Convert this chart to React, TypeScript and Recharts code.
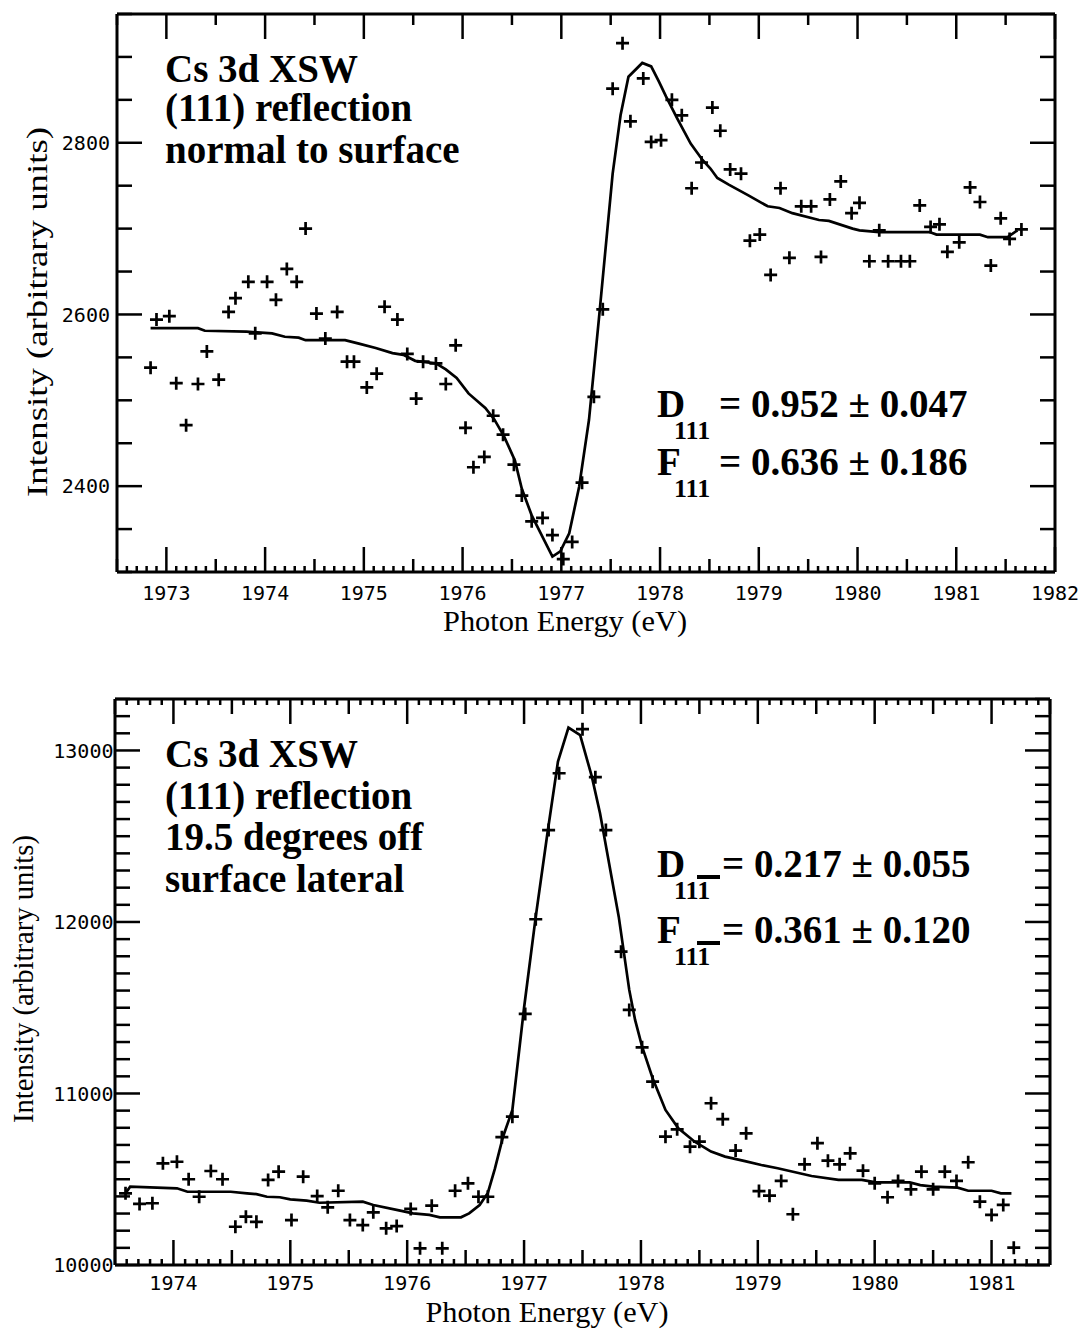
import React from 'react';
import { ComposedChart, Scatter, Line, XAxis, YAxis } from 'recharts';

// upper panel: (111) reflection normal to surface
const topEnergy = [
  1972.84, 1972.9, 1973.03, 1973.1, 1973.2, 1973.32, 1973.41, 1973.53, 1973.63, 1973.7,
  1973.83, 1973.9, 1974.02, 1974.11, 1974.22, 1974.32, 1974.41, 1974.52, 1974.61, 1974.73,
  1974.83, 1974.9, 1975.03, 1975.13, 1975.21, 1975.34, 1975.44, 1975.53, 1975.6, 1975.73,
  1975.83, 1975.93, 1976.03, 1976.11, 1976.22, 1976.31, 1976.41, 1976.52, 1976.6, 1976.7,
  1976.81, 1976.91, 1977.02, 1977.11, 1977.21, 1977.33, 1977.42, 1977.52, 1977.62, 1977.7,
  1977.83, 1977.91, 1978.01, 1978.12, 1978.22, 1978.32, 1978.42, 1978.53, 1978.61, 1978.71,
  1978.82, 1978.91, 1979.01, 1979.12, 1979.22, 1979.31, 1979.43, 1979.53, 1979.63, 1979.72,
  1979.83, 1979.94, 1980.02, 1980.12, 1980.22, 1980.31, 1980.44, 1980.53, 1980.63, 1980.74,
  1980.83, 1980.91, 1981.03, 1981.14, 1981.24, 1981.35, 1981.45, 1981.54, 1981.66,
];
const topIntensity = [
  2538, 2594, 2598, 2520, 2471, 2519, 2557, 2524, 2603, 2619,
  2638, 2578, 2638, 2617, 2653, 2638, 2700, 2601, 2572, 2603,
  2545, 2545, 2515, 2531, 2609, 2594, 2554, 2502, 2545, 2543,
  2519, 2564, 2468, 2422, 2434, 2482, 2460, 2425, 2389, 2359,
  2363, 2343, 2315, 2335, 2404, 2504, 2606, 2863, 2916, 2825,
  2875, 2801, 2803, 2850, 2832, 2747, 2777, 2841, 2814, 2769,
  2764, 2686, 2693, 2646, 2747, 2666, 2726, 2726, 2667, 2734,
  2755, 2718, 2730, 2662, 2698, 2662, 2662, 2662, 2727, 2702,
  2705, 2673, 2684, 2748, 2731, 2657, 2712, 2688, 2699,
];
const topFitEnergy = [
  1972.84, 1973.32, 1973.39, 1973.81, 1974.07, 1974.2, 1974.34, 1974.41, 1974.81, 1974.95,
  1975.12, 1975.29, 1975.4, 1975.52, 1975.73, 1975.83, 1975.94, 1976.06, 1976.23, 1976.32,
  1976.42, 1976.53, 1976.6, 1976.7, 1976.91, 1976.99, 1977.08, 1977.18, 1977.28, 1977.38,
  1977.52, 1977.6, 1977.68, 1977.82, 1977.91, 1977.99, 1978.06, 1978.18, 1978.31, 1978.43,
  1978.51, 1978.58, 1978.7, 1978.89, 1979.09, 1979.21, 1979.34, 1979.61, 1979.71, 1979.95,
  1980.02, 1980.22, 1980.73, 1980.8, 1981.24, 1981.32, 1981.52, 1981.62,
];
const topFitIntensity = [
  2584, 2584, 2581, 2580, 2578, 2574, 2573, 2570, 2570, 2566,
  2561, 2555, 2553, 2546, 2543, 2536, 2526, 2508, 2491, 2478,
  2458, 2430, 2397, 2366, 2318, 2324, 2345, 2399, 2477, 2594,
  2764, 2832, 2877, 2893, 2889, 2871, 2854, 2827, 2799, 2780,
  2770, 2759, 2751, 2739, 2726, 2724, 2718, 2710, 2709, 2700,
  2698, 2696, 2696, 2693, 2693, 2690, 2690, 2698,
];

// lower panel: (111) reflection 19.5 degrees off surface lateral
const botEnergy = [
  1973.59, 1973.71, 1973.82, 1973.91, 1974.03, 1974.13, 1974.22, 1974.32, 1974.42, 1974.53,
  1974.62, 1974.71, 1974.81, 1974.9, 1975.01, 1975.11, 1975.23, 1975.32, 1975.41, 1975.51,
  1975.62, 1975.71, 1975.82, 1975.91, 1976.03, 1976.11, 1976.21, 1976.3, 1976.41, 1976.52,
  1976.61, 1976.69, 1976.81, 1976.9, 1977.01, 1977.1, 1977.21, 1977.3, 1977.5, 1977.61,
  1977.7, 1977.83, 1977.9, 1978.01, 1978.1, 1978.21, 1978.31, 1978.42, 1978.5, 1978.6,
  1978.7, 1978.81, 1978.9, 1979.01, 1979.1, 1979.2, 1979.3, 1979.4, 1979.51, 1979.6,
  1979.7, 1979.79, 1979.9, 1980.0, 1980.11, 1980.2, 1980.31, 1980.4, 1980.5, 1980.6,
  1980.7, 1980.8, 1980.9, 1981.0, 1981.1, 1981.19,
];
const botIntensity = [
  10418, 10356, 10360, 10593, 10602, 10500, 10398, 10548, 10500, 10223,
  10282, 10252, 10496, 10544, 10262, 10515, 10402, 10336, 10433, 10262,
  10233, 10307, 10214, 10227, 10327, 10097, 10346, 10097, 10433, 10476,
  10398, 10398, 10745, 10865, 11464, 12016, 12536, 12867, 13124, 12844,
  12536, 11827, 11487, 11269, 11069, 10748, 10791, 10690, 10719, 10943,
  10850, 10667, 10768, 10431, 10404, 10490, 10296, 10587, 10710, 10608,
  10587, 10651, 10550, 10476, 10395, 10490, 10441, 10544, 10441, 10544,
  10490, 10599, 10369, 10292, 10350, 10101,
];
const botFitEnergy = [
  1973.59, 1973.63, 1974.03, 1974.12, 1974.49, 1974.63, 1974.71, 1974.8, 1974.91, 1975.0,
  1975.14, 1975.25, 1975.62, 1975.71, 1975.94, 1976.05, 1976.19, 1976.28, 1976.46, 1976.53,
  1976.62, 1976.69, 1976.75, 1976.82, 1976.9, 1977.0, 1977.1, 1977.2, 1977.29, 1977.38,
  1977.48, 1977.58, 1977.65, 1977.81, 1977.9, 1977.95, 1978.01, 1978.1, 1978.21, 1978.32,
  1978.46, 1978.6, 1978.72, 1978.89, 1979.03, 1979.17, 1979.46, 1979.69, 1979.89, 1980.01,
  1980.3, 1980.39, 1980.5, 1980.71, 1980.8, 1981.0, 1981.08, 1981.17,
];
const botFitIntensity = [
  10418, 10457, 10447, 10427, 10427, 10418, 10413, 10398, 10395, 10383,
  10375, 10363, 10369, 10350, 10317, 10301, 10292, 10278, 10278, 10301,
  10350, 10420, 10560, 10748, 10904, 11500, 12031, 12517, 12935, 13133,
  13090, 12847, 12634, 12031, 11604, 11429, 11273, 11089, 10904, 10797,
  10719, 10661, 10632, 10606, 10583, 10564, 10519, 10496, 10496, 10482,
  10482, 10466, 10457, 10451, 10433, 10433, 10418, 10418,
];

// labelled ticks
const topXLabels = [1973, 1974, 1975, 1976, 1977, 1978, 1979, 1980, 1981, 1982];
const topYLabels = [2400, 2600, 2800];
const botXLabels = [1974, 1975, 1976, 1977, 1978, 1979, 1980, 1981];
const botYLabels = [10000, 11000, 12000, 13000];

const zip = (xs: number[], ys: number[]) => xs.map((x, i) => ({ x, y: ys[i] }));

// evenly spaced tick positions (rounded so that 1977.0 == 1977)
const range = (a: number, b: number, step: number) => {
  const out: number[] = [];
  const n = Math.round((b - a) / step);
  for (let i = 0; i <= n; i++) out.push(Math.round((a + i * step) * 100) / 100);
  return out;
};

const isWhole = (v: number, k: number) => Math.abs(v * k - Math.round(v * k)) < 1e-6;

const tickFont = { fontFamily: '"DejaVu Sans Mono", monospace', fontSize: 20, fill: '#000' };
const serif = '"Liberation Serif", "Times New Roman", serif';

const Cross = (props: any) => {
  const { cx, cy } = props;
  if (cx == null || cy == null) return null;
  return (
    <path
      d={`M${cx - 6.5},${cy}H${cx + 6.5}M${cx},${cy - 6.5}V${cy + 6.5}`}
      stroke="#000"
      strokeWidth={2.7}
      fill="none"
    />
  );
};

interface PanelProps {
  points: { x: number; y: number }[];
  fit: { x: number; y: number }[];
  height: number;
  margin: { top: number; right: number; left: number; bottom: number };
  leftWidth: number;
  bottomHeight: number;
  xDomain: [number, number];
  yDomain: [number, number];
  xTicksBottom: number[];
  xTicksTop: number[];
  yTicks: number[];
  xLabels: number[];
  yLabels: number[];
  halfLen: number;
  topHalfLen: number;
  yLabelGap: number;
  xLabelDy: number;
}

const Panel = (p: PanelProps) => {
  const xLen = (v: number, half: number) =>
    p.xLabels.includes(v) || isWhole(v, 1) ? 25 : isWhole(v, 2) ? half : 6;
  const yLen = (v: number) => (p.yLabels.includes(v) ? 25 : 15);

  const BottomTick = ({ x, y, payload }: any) => {
    const v = payload.value;
    return (
      <g>
        <line x1={x} x2={x} y1={y} y2={y - xLen(v, p.halfLen)} stroke="#000" strokeWidth={2.5} />
        {p.xLabels.includes(v) && (
          <text x={x} y={y + p.xLabelDy} textAnchor="middle" {...tickFont}>
            {v}
          </text>
        )}
      </g>
    );
  };
  const TopTick = ({ x, y, payload }: any) => (
    <line x1={x} x2={x} y1={y} y2={y + xLen(payload.value, p.topHalfLen)} stroke="#000" strokeWidth={2.5} />
  );
  const LeftTick = ({ x, y, payload }: any) => {
    const v = payload.value;
    return (
      <g>
        <line x1={x} x2={x + yLen(v)} y1={y} y2={y} stroke="#000" strokeWidth={2.5} />
        {p.yLabels.includes(v) && (
          <text x={x - p.yLabelGap} y={y} dy="0.36em" textAnchor="end" {...tickFont}>
            {v}
          </text>
        )}
      </g>
    );
  };
  const RightTick = ({ x, y, payload }: any) => (
    <line x1={x} x2={x - yLen(payload.value)} y1={y} y2={y} stroke="#000" strokeWidth={2.5} />
  );

  const frame = { stroke: '#000', strokeWidth: 3 };

  return (
    <ComposedChart width={1087} height={p.height} margin={p.margin}>
      <XAxis
        xAxisId="b"
        dataKey="x"
        type="number"
        orientation="bottom"
        domain={p.xDomain}
        allowDataOverflow
        ticks={p.xTicksBottom}
        interval={0}
        height={p.bottomHeight}
        tickSize={0}
        tickMargin={0}
        tickLine={false}
        axisLine={frame}
        tick={BottomTick}
      />
      <XAxis
        xAxisId="t"
        dataKey="x"
        type="number"
        orientation="top"
        domain={p.xDomain}
        allowDataOverflow
        ticks={p.xTicksTop}
        interval={0}
        height={1}
        tickSize={0}
        tickMargin={0}
        tickLine={false}
        axisLine={frame}
        tick={TopTick}
      />
      <YAxis
        yAxisId="l"
        type="number"
        orientation="left"
        domain={p.yDomain}
        allowDataOverflow
        ticks={p.yTicks}
        interval={0}
        width={p.leftWidth}
        tickSize={0}
        tickMargin={0}
        tickLine={false}
        axisLine={frame}
        tick={LeftTick}
      />
      <YAxis
        yAxisId="r"
        type="number"
        orientation="right"
        domain={p.yDomain}
        allowDataOverflow
        ticks={p.yTicks}
        interval={0}
        width={1}
        tickSize={0}
        tickMargin={0}
        tickLine={false}
        axisLine={frame}
        tick={RightTick}
      />
      <Line
        data={p.fit}
        dataKey="y"
        xAxisId="b"
        yAxisId="l"
        type="linear"
        stroke="#000"
        strokeWidth={2.7}
        dot={false}
        isAnimationActive={false}
      />
      <Scatter
        data={p.points}
        dataKey="y"
        xAxisId="b"
        yAxisId="l"
        shape={<Cross />}
        isAnimationActive={false}
      />
    </ComposedChart>
  );
};

const bold = { fontFamily: serif, fontWeight: 700, fill: '#000' } as const;

// symbol with its "111" subscript kept in one text element
const Sym = ({ x, y, ch }: { x: number; y: number; ch: string }) => (
  <text x={x} y={y}>
    {ch}
    <tspan x={x + 17} dy={22} fontSize={26}>
      111
    </tspan>
  </text>
);

export default function App() {
  return (
    <div style={{ position: 'absolute', left: 0, top: 0, width: 1087, height: 1330, background: '#fff' }}>
      <div style={{ position: 'absolute', left: 0, top: 0 }}>
        <Panel
          points={zip(topEnergy, topIntensity)}
          fit={zip(topFitEnergy, topFitIntensity)}
          height={660}
          margin={{ top: 13, right: 31, left: 0, bottom: 0 }}
          leftWidth={117}
          bottomHeight={88}
          xDomain={[1972.5, 1982]}
          yDomain={[2300, 2950]}
          xTicksBottom={range(1972.5, 1982, 0.1)}
          xTicksTop={range(1972.5, 1982, 0.5)}
          yTicks={range(2300, 2950, 50)}
          xLabels={topXLabels}
          yLabels={topYLabels}
          halfLen={13}
          topHalfLen={11}
          yLabelGap={7}
          xLabelDy={28}
        />
      </div>
      <div style={{ position: 'absolute', left: 0, top: 660 }}>
        <Panel
          points={zip(botEnergy, botIntensity)}
          fit={zip(botFitEnergy, botFitIntensity)}
          height={670}
          margin={{ top: 38, right: 36, left: 0, bottom: 0 }}
          leftWidth={115}
          bottomHeight={65}
          xDomain={[1973.5, 1981.5]}
          yDomain={[10000, 13300]}
          xTicksBottom={range(1973.5, 1981.5, 0.1)}
          xTicksTop={range(1973.5, 1981.5, 0.1)}
          yTicks={range(10000, 13300, 100)}
          xLabels={botXLabels}
          yLabels={botYLabels}
          halfLen={15}
          topHalfLen={15}
          yLabelGap={1.5}
          xLabelDy={25}
        />
      </div>

      {/* titles and annotations */}
      <svg width={1087} height={1330} style={{ position: 'absolute', left: 0, top: 0, pointerEvents: 'none' }}>
        <g fontFamily={serif} fill="#000">
          <text x={565} y={631} fontSize={30} textAnchor="middle" textLength={244} lengthAdjust="spacingAndGlyphs">
            Photon Energy (eV)
          </text>
          <text x={547} y={1322} fontSize={30} textAnchor="middle" textLength={243} lengthAdjust="spacingAndGlyphs">
            Photon Energy (eV)
          </text>
          <text
            x={47}
            y={312}
            fontSize={30}
            textAnchor="middle"
            transform="rotate(-90 47 312)"
            textLength={370}
            lengthAdjust="spacingAndGlyphs"
          >
            Intensity (arbitrary units)
          </text>
          <text
            x={33}
            y={979}
            fontSize={29}
            textAnchor="middle"
            transform="rotate(-90 33 979)"
            textLength={288}
            lengthAdjust="spacingAndGlyphs"
          >
            Intensity (arbitrary units)
          </text>
        </g>

        <g {...bold} fontSize={39}>
          <text x={165} y={82}>Cs 3d XSW</text>
          <text x={165} y={121}>(111) reflection</text>
          <text x={165} y={163}>normal to surface</text>

          <text x={165} y={767}>Cs 3d XSW</text>
          <text x={165} y={809}>(111) reflection</text>
          <text x={165} y={850}>19.5 degrees off</text>
          <text x={165} y={892}>surface lateral</text>

          <Sym x={657} y={417} ch="D" />
          <text x={719} y={417}>= 0.952 ± 0.047</text>
          <Sym x={657} y={475} ch="F" />
          <text x={719} y={475}>= 0.636 ± 0.186</text>

          <Sym x={657} y={877} ch="D" />
          <text x={722} y={877}>= 0.217 ± 0.055</text>
          <Sym x={657} y={943} ch="F" />
          <text x={722} y={943}>= 0.361 ± 0.120</text>
        </g>
        <line x1={697} x2={720} y1={877} y2={877} stroke="#000" strokeWidth={4} />
        <line x1={697} x2={720} y1={943} y2={943} stroke="#000" strokeWidth={4} />
      </svg>
    </div>
  );
}
